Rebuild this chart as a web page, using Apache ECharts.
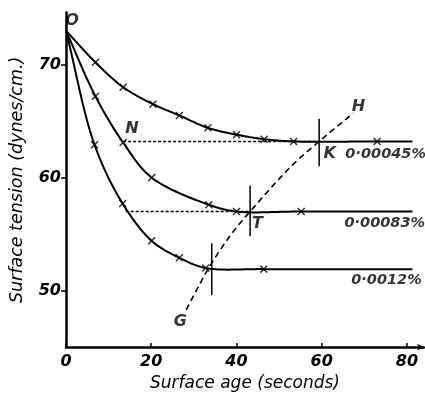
<!DOCTYPE html>
<html><head><meta charset="utf-8">
<script src="https://cdn.jsdelivr.net/npm/echarts@6/dist/echarts.min.js"></script>
<style>html,body{margin:0;padding:0;background:#fff}#c{width:425px;height:397px}</style>
</head><body><div id="c"></div>
<script>
// ---- data ----
const curve00045 = [[0,73],[6.9,70.2],[13.4,68.0],[20.4,66.5],[26.6,65.5],[33.3,64.4],[40,63.8],[46.5,63.4],[53.4,63.2],[73,63.2],[81.3,63.2]];
const curve00083 = [[0,73],[6.9,67.2],[13.4,63.1],[20.1,60.0],[33.5,57.6],[40,57.0],[55.2,57.0],[81.3,57.0]];
const curve0012  = [[0,73],[6.7,62.9],[13.3,57.7],[20.1,54.4],[26.6,52.9],[32.8,52.0],[46.4,51.9],[81.3,51.9]];
const lineNK = [[13.4,63.2],[59.4,63.2]];
const lineST = [[14.0,57.0],[43.2,57.0]];
const curveGTKH = [[28.2,48.3],[33.5,52.0],[38.8,55.0],[43.2,57.0],[53.1,61.1],[59.4,63.2],[67.4,65.7]];
const tickG = [[34.2,49.6],[34.2,54.2]];
const tickT = [[43.2,54.8],[43.2,59.3]];
const tickK = [[59.4,61.0],[59.4,65.2]];
const pointLabels = [["O",1.4,73.9],["N",15.5,64.3],["K",61.9,62.1],["T",44.9,55.9],["H",68.6,66.3],["G",26.8,47.2]];
const curveLabels = [["0·00045%",75.0,62.1],["0·00083%",74.8,56.0],["0·0012%",75.2,50.9]];
const xTicks = [0,20,40,60,80];
const yTicks = [50,60,70];

// ---- chart ----
const FONT = 'DejaVu Sans';
const cross = 'path://M0,1.3L1.3,0L5,3.7L8.7,0L10,1.3L6.3,5L10,8.7L8.7,10L5,6.3L1.3,10L0,8.7L3.7,5Z';

// centripetal Catmull-Rom through pixel points
function spline(P, steps){
  const out = [P[0]];
  const n = P.length;
  for (let i = 0; i < n - 1; i++){
    const p0 = P[i-1] || [2*P[0][0]-P[1][0], 2*P[0][1]-P[1][1]];
    const p1 = P[i], p2 = P[i+1];
    const p3 = P[i+2] || [2*P[n-1][0]-P[n-2][0], 2*P[n-1][1]-P[n-2][1]];
    const d = (a,b)=>Math.max(1e-6, Math.pow(Math.hypot(b[0]-a[0], b[1]-a[1]), 0.5));
    const t0=0, t1=t0+d(p0,p1), t2=t1+d(p1,p2), t3=t2+d(p2,p3);
    for (let s = 1; s <= steps; s++){
      const t = t1 + (t2-t1)*s/steps;
      const L = (a,b,ta,tb)=>[ (tb-t)/(tb-ta)*a[0]+(t-ta)/(tb-ta)*b[0], (tb-t)/(tb-ta)*a[1]+(t-ta)/(tb-ta)*b[1] ];
      const A1=L(p0,p1,t0,t1), A2=L(p1,p2,t1,t2), A3=L(p2,p3,t2,t3);
      const B1=L(A1,A2,t0,t2), B2=L(A2,A3,t1,t3);
      out.push(L(B1,B2,t1,t2));
    }
  }
  return out;
}
function smoothCurve(arr, width, dash){
  return {type:'custom', data:[[arr[0][0], arr[0][1]]], silent:true, z:3, clip:false,
    renderItem:(params, api)=>{
      const pts = spline(arr.map(p=>api.coord(p)), 24);
      return {type:'polyline', shape:{points:pts},
        style:{stroke:'#000', lineWidth:width, fill:null, lineDash:dash||null}};
    }};
}
function markers(arr){
  return {type:'scatter', data:arr.slice(1, arr.length-1), symbol:cross, symbolSize:8,
    itemStyle:{color:'#000'}, silent:true, z:4};
}
function seg(arr, dash, w){
  return {type:'line', data:arr, symbol:'none',
    lineStyle:{color:'#000', width:w||1.5, type:dash||'solid'}, silent:true, z:2};
}
function labels(arr, size){
  return {type:'scatter', data:arr.map(a=>({value:[a[1],a[2]], name:a[0]})), symbolSize:0,
    label:{show:true, position:'inside', formatter:p=>p.name, color:'#000',
      fontFamily:FONT, fontStyle:'italic', fontSize:size, fontWeight:'bold'}, silent:true, z:5};
}
const chart = echarts.init(document.getElementById('c'), null, {renderer:'canvas'});
chart.setOption({
  animation:false,
  backgroundColor:'#fff',
  grid:{left:60, right:1, top:12.6, bottom:44},
  xAxis:{type:'value', min:0, max:84, interval:20,
    name:'Surface age (seconds)', nameLocation:'middle', nameGap:25,
    nameTextStyle:{fontFamily:FONT, fontStyle:'italic', fontSize:17, color:'#000'},
    axisLine:{lineStyle:{color:'#000', width:2.5}, symbol:['none','arrow'], symbolSize:[5,7]},
    axisTick:{show:true, inside:true, length:4, lineStyle:{color:'#000', width:1.5}, customValues:xTicks},
    axisLabel:{color:'#000', fontFamily:FONT, fontStyle:'italic', fontWeight:'bold', fontSize:16, margin:7, customValues:xTicks},
    splitLine:{show:false}},
  yAxis:{type:'value', min:45, max:74.6,
    name:'Surface tension (dynes/cm.)', nameLocation:'middle', nameGap:40,
    nameTextStyle:{fontFamily:FONT, fontStyle:'italic', fontSize:17.5, color:'#000'},
    axisLine:{show:true, lineStyle:{color:'#000', width:2.5}},
    axisTick:{show:true, length:5, lineStyle:{color:'#000', width:1.5}, customValues:yTicks},
    axisLabel:{color:'#000', fontFamily:FONT, fontStyle:'italic', fontWeight:'bold', fontSize:16, margin:5, customValues:yTicks},
    splitLine:{show:false}},
  series:[
    smoothCurve(curve00045, 2), smoothCurve(curve00083, 2), smoothCurve(curve0012, 2),
    markers(curve00045), markers(curve00083), markers(curve0012),
    seg(lineNK, [3,2], 1.4),
    seg(lineST, [3,2], 1.4),
    smoothCurve(curveGTKH, 1.6, [6,4]),
    seg(tickG, 'solid', 1.5), seg(tickT, 'solid', 1.5), seg(tickK, 'solid', 1.5),
    labels(pointLabels, 16),
    labels(curveLabels, 14.5)
  ]
});
</script></body></html>
